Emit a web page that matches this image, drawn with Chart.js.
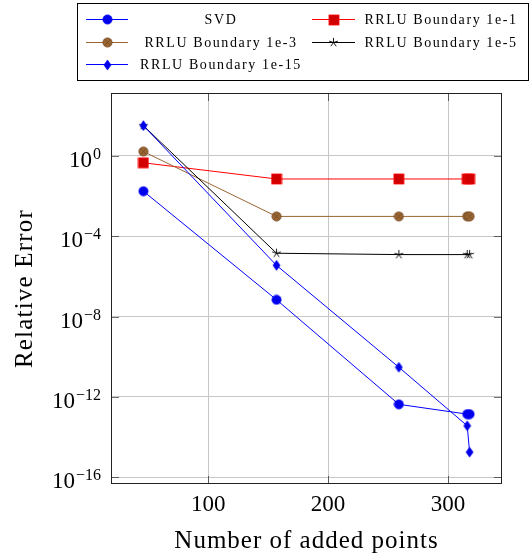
<!DOCTYPE html>
<html lang="en">
<head>
<meta charset="UTF-8">
<title>Relative Error vs Number of added points</title>
<script src="https://cdn.jsdelivr.net/npm/chart.js"></script>
<style>
  html, body { margin: 0; padding: 0; background: #fff; }
</style>
</head>
<body>
<canvas id="myChart" width="529" height="559"></canvas>
<script>
  // values
  const addedPoints = [46, 157, 259, 316, 318];
  const seriesNames = ['SVD', 'RRLU Boundary 1e-1', 'RRLU Boundary 1e-3', 'RRLU Boundary 1e-5', 'RRLU Boundary 1e-15'];
  const svdErr = [1.7e-2, 6.8e-8, 4.3e-13, 1.4e-13, 1.4e-13];
  const rrlu1 = [0.44, 0.069, 0.069, 0.069, 0.069];
  const rrlu3 = [1.6, 9.5e-4, 9.5e-4, 9.5e-4, 9.5e-4];
  const rrlu5 = [31, 1.4e-5, 1.2e-5, 1.2e-5, 1.2e-5];
  const rrlu15 = [31, 3.5e-6, 3.0e-11, 3.7e-14, 1.8e-15];
  const xTicks = [100, 200, 300];
  const yTicks = [1e-16, 1e-12, 1e-8, 1e-4, 1];

  const SERIF = '"Liberation Serif", "DejaVu Serif", serif';

  // small marker images (pgfplots style marks)
  function mark(w, h, draw) {
    const c = document.createElement('canvas');
    c.width = w; c.height = h;
    draw(c.getContext('2d'), w / 2, h / 2);
    return c;
  }
  const dot = mark(11, 11, (g, cx, cy) => {
    g.beginPath(); g.arc(cx, cy, 4.6, 0, Math.PI * 2);
    g.fillStyle = 'rgb(0,0,235)'; g.fill();
    g.strokeStyle = 'rgb(0,0,255)'; g.lineWidth = 0.8; g.stroke();
  });
  const square = mark(12, 12, (g) => {
    g.fillStyle = 'rgb(208,0,0)'; g.fillRect(1, 1, 10, 10);
    g.strokeStyle = 'rgb(255,0,0)'; g.lineWidth = 0.8; g.strokeRect(1, 1, 10, 10);
  });
  const otimes = mark(11, 11, (g, cx, cy) => {
    g.beginPath(); g.arc(cx, cy, 4.6, 0, Math.PI * 2);
    g.fillStyle = 'rgb(153,102,51)'; g.fill();
    g.strokeStyle = 'rgb(115,72,32)'; g.lineWidth = 0.8; g.stroke();
    const d = 4.6 * Math.SQRT1_2;
    g.beginPath();
    g.moveTo(cx - d, cy - d); g.lineTo(cx + d, cy + d);
    g.moveTo(cx + d, cy - d); g.lineTo(cx - d, cy + d);
    g.stroke();
  });
  const star = mark(11, 11, (g, cx, cy) => {
    g.strokeStyle = '#000'; g.lineWidth = 0.9;
    g.beginPath();
    for (let k = 0; k < 5; k++) {
      const a = -Math.PI / 2 + k * 2 * Math.PI / 5;
      g.moveTo(cx, cy); g.lineTo(cx + 4.6 * Math.cos(a), cy + 4.6 * Math.sin(a));
    }
    g.stroke();
  });
  const diamond = mark(9, 12, (g, cx, cy) => {
    g.beginPath();
    g.moveTo(cx, cy - 5); g.lineTo(cx + 3.6, cy); g.lineTo(cx, cy + 5); g.lineTo(cx - 3.6, cy);
    g.closePath();
    g.fillStyle = 'rgb(0,0,230)'; g.fill();
    g.strokeStyle = 'rgb(0,0,255)'; g.lineWidth = 0.6; g.stroke();
  });

  function series(i, values, color, marker) {
    return {
      label: seriesNames[i],
      data: addedPoints.map((x, k) => ({ x: x, y: values[k] })),
      borderColor: color,
      backgroundColor: color,
      borderWidth: 1,
      pointStyle: marker,
      pointRadius: 5,
      order: 10 - i   // later series on top, like pgfplots
    };
  }

  const datasets = [
    series(0, svdErr, 'rgb(0,0,255)', dot),
    series(1, rrlu1, 'rgb(255,0,0)', square),
    series(2, rrlu3, 'rgb(153,102,51)', otimes),
    series(3, rrlu5, '#000', star),
    series(4, rrlu15, 'rgb(0,0,255)', diamond)
  ];

  // frame, ticks, labels, titles and legend box
  const decor = {
    id: 'decor',
    afterDraw(chart) {
      const ctx = chart.ctx;
      const a = chart.chartArea;
      const xs = chart.scales.x, ys = chart.scales.y;
      ctx.save();

      // tick marks (inside, all four sides)
      ctx.strokeStyle = 'rgba(0,0,0,0.55)';
      ctx.lineWidth = 1;
      ctx.beginPath();
      yTicks.forEach(v => {
        const y = Math.round(ys.getPixelForValue(v)) + 0.5;
        ctx.moveTo(a.left, y); ctx.lineTo(a.left + 8, y);
        ctx.moveTo(a.right - 8, y); ctx.lineTo(a.right, y);
      });
      xTicks.forEach(v => {
        const x = Math.round(xs.getPixelForValue(v)) + 0.5;
        ctx.moveTo(x, a.bottom); ctx.lineTo(x, a.bottom - 8);
        ctx.moveTo(x, a.top); ctx.lineTo(x, a.top + 8);
      });
      ctx.stroke();

      // frame
      ctx.strokeStyle = '#222';
      ctx.strokeRect(Math.round(a.left) + 0.5, Math.round(a.top) + 0.5,
        Math.round(a.right - a.left) - 1, Math.round(a.bottom - a.top) - 1);

      ctx.fillStyle = '#000';
      // x tick labels
      ctx.font = '23px ' + SERIF;
      ctx.textAlign = 'center';
      ctx.textBaseline = 'alphabetic';
      xTicks.forEach(v => ctx.fillText(String(v), xs.getPixelForValue(v), 511));

      // y tick labels 10^e with real superscript
      yTicks.forEach(v => {
        const y = ys.getPixelForValue(v);
        const e = Math.round(Math.log10(v));
        const sup = e < 0 ? '\u2212' + (-e) : String(e);
        ctx.textAlign = 'right';
        ctx.font = '16px ' + SERIF;
        const sw = ctx.measureText(sup).width;
        ctx.fillText(sup, 101, y + 3);
        ctx.font = '23px ' + SERIF;
        ctx.fillText('10', 101 - sw - 1, y + 11);
      });

      // axis titles
      ctx.letterSpacing = '1px';
      ctx.font = '25px ' + SERIF;
      ctx.textAlign = 'center';
      ctx.textBaseline = 'alphabetic';
      ctx.fillText('Number of added points', (a.left + a.right) / 2, 548);
      ctx.save();
      ctx.translate(32, (a.top + a.bottom) / 2);
      ctx.rotate(-Math.PI / 2);
      ctx.letterSpacing = '1.2px';
      ctx.fillText('Relative Error', 0, 0);
      ctx.restore();

      // legend
      ctx.strokeStyle = '#000';
      ctx.lineWidth = 1;
      ctx.strokeRect(77.5, 3.5, 451, 77);
      const rowY = [19, 42, 64];
      const lineX = [[86, 128], [312, 355]];
      const textX = [221, 441];
      ctx.font = '14px ' + SERIF;
      ctx.letterSpacing = '1.6px';
      ctx.textBaseline = 'middle';
      chart.data.datasets.forEach((ds, i) => {
        const col = i % 2, y = rowY[Math.floor(i / 2)];
        const [x0, x1] = lineX[col];
        ctx.strokeStyle = ds.borderColor;
        ctx.beginPath();
        ctx.moveTo(x0, y + 0.5); ctx.lineTo(x1, y + 0.5);
        ctx.stroke();
        const m = ds.pointStyle;
        ctx.drawImage(m, Math.round((x0 + x1) / 2 - m.width / 2), Math.round(y - m.height / 2 + 0.5));
        ctx.fillStyle = '#000';
        ctx.textAlign = 'center';
        ctx.fillText(ds.label, textX[col], y + 1);
      });
      ctx.restore();
    }
  };

  const config = {
    type: 'line',
    data: { datasets: datasets },
    options: {
      responsive: false,
      animation: false,
      layout: { padding: { top: 93, right: 27, left: 0, bottom: 0 } },
      plugins: { legend: { display: false }, tooltip: { enabled: false } },
      scales: {
        x: {
          type: 'linear', min: 19, max: 345,
          afterBuildTicks: s => { s.ticks = xTicks.map(v => ({ value: v })); },
          afterFit: s => { s.height = 75; },
          ticks: { display: false },
          grid: { color: '#c6c6c6', lineWidth: 1, drawTicks: false },
          border: { display: false }
        },
        y: {
          type: 'logarithmic', min: 4.7e-17, max: 1.3e3,
          afterBuildTicks: s => { s.ticks = yTicks.map(v => ({ value: v })); },
          afterFit: s => { s.width = 111; },
          ticks: { display: false },
          grid: { color: '#c6c6c6', lineWidth: 1, drawTicks: false },
          border: { display: false }
        }
      }
    },
    plugins: [decor]
  };

  var myChart = new Chart(document.getElementById('myChart'), config);
</script>
</body>
</html>
